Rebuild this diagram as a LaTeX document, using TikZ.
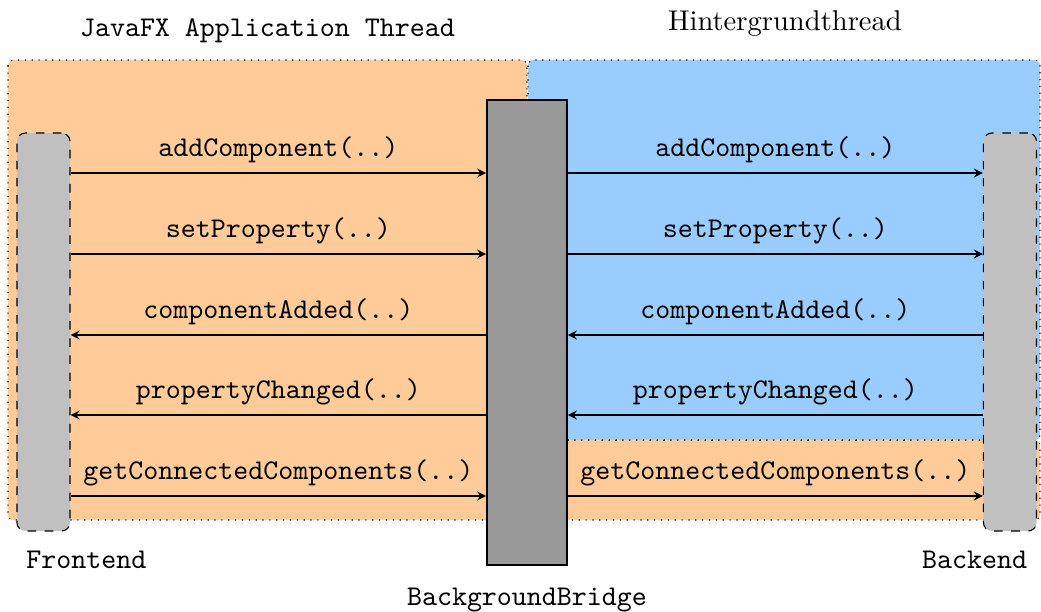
\documentclass[tikz,border=0pt]{standalone}
\usetikzlibrary{positioning}

\definecolor{fxorange}{HTML}{FFCC99}
\definecolor{bgblue}{HTML}{99CCFF}
\definecolor{lifegray}{HTML}{C0C0C0}
\definecolor{bridgegray}{HTML}{999999}

\tikzset{
  region/.style={dotted, rounded corners=2pt},
  lifeline/.style={draw, dashed, fill=lifegray, rounded corners=3pt,
    minimum width=18.6pt, minimum height=139.3pt},
  bridgebox/.style={draw, semithick, fill=bridgegray,
    minimum width=28pt, minimum height=162.7pt},
  call/.style={-stealth},
  msgtext/.style={font=\ttfamily}
}

\begin{document}
\begin{tikzpicture}[x=0.35pt, y=-0.35pt]
      \useasboundingbox (0,0) rectangle (1041,612);

      % threads
      \draw[region, fill=fxorange] (8,60) rectangle (527,520);
      \draw[region, fill=fxorange] (527,440) rectangle (1040,520);
      \draw[region, fill=bgblue] (528,60) rectangle (1040,440);
        \node[anchor=base, font=\ttfamily] (fxtitle) at (267.5,37) {JavaFX Application Thread};
        \node[anchor=base] (bgtitle) at (785,31) {Hintergrundthread};

      % lifelines
      \node[lifeline] (front) at (43.5,332) {};
      \node[lifeline] (back) at (1010,332) {};
      \node[bridgebox] (bridge) at (527,332.5) {};

        \node[msgtext, below=3.3pt of front.south west, anchor=north west] (frontlabel) {Frontend};
        \node[msgtext, below=3.3pt of back.south east, anchor=north east] (backlabel) {Backend};
        \node[msgtext, below=4.2pt of bridge] (bridgelabel) {BackgroundBridge};

      % frontend <-> bridge
      \draw[call] (front.east |- 0,173) -- node[above, msgtext] {addComponent(..)} (bridge.west |- 0,173);
      \draw[call] (front.east |- 0,254) -- node[above, msgtext] {setProperty(..)} (bridge.west |- 0,254);
      \draw[call] (bridge.west |- 0,335) -- node[above, msgtext] {componentAdded(..)} (front.east |- 0,335);
      \draw[call] (bridge.west |- 0,415) -- node[above, msgtext] {propertyChanged(..)} (front.east |- 0,415);
      \draw[call] (front.east |- 0,496) -- node[above, msgtext] {getConnectedComponents(..)} (bridge.west |- 0,496);

      % bridge <-> backend
      \draw[call] (bridge.east |- 0,173) -- node[above, msgtext] {addComponent(..)} (back.west |- 0,173);
      \draw[call] (bridge.east |- 0,254) -- node[above, msgtext] {setProperty(..)} (back.west |- 0,254);
      \draw[call] (back.west |- 0,335) -- node[above, msgtext] {componentAdded(..)} (bridge.east |- 0,335);
      \draw[call] (back.west |- 0,415) -- node[above, msgtext] {propertyChanged(..)} (bridge.east |- 0,415);
      \draw[call] (bridge.east |- 0,496) -- node[above, msgtext] {getConnectedComponents(..)} (back.west |- 0,496);

\end{tikzpicture}
\end{document}
